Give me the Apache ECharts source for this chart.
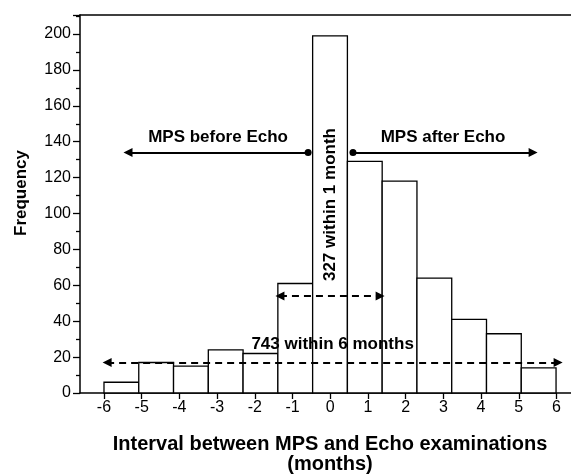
<!DOCTYPE html>
<html>
<head>
<meta charset="utf-8">
<script src="https://cdn.jsdelivr.net/npm/echarts@6/dist/echarts.min.js"></script>
<style>
  html, body { margin: 0; padding: 0; background: #fff; }
  #chart { width: 571px; height: 475px; }
</style>
</head>
<body>
<div id="chart"></div>
<script>
// bins: month at which each bin starts, and its count
const months = [-6, -5, -4, -3, -2, -1, 0, 1, 2, 3, 4, 5, 6];
const frequency = [6, 17, 15, 24, 22, 61, 199, 129, 118, 64, 41, 33, 14];
const tickMonths = [-6, -5, -4, -3, -2, -1, 0, 1, 2, 3, 4, 5, 6];

// annotation arrows: [from, to, height] in bin units / frequency
const beforeArrow = [-5.31, -0.13, 134];
const afterArrow = [1.16, 6.34, 134];
const oneMonthArrow = [-0.94, 1.94, 54];
const sixMonthArrow = [-5.91, 7.06, 17];
const oneMonthText = [0.5, 105];

const FONT = "'Liberation Sans', Arial, sans-serif";
const chart = echarts.init(document.getElementById('chart'));

const boldLabel = (text, dist) => ({
  show: true,
  position: 'insideMiddleTop',
  distance: dist,
  formatter: text,
  color: '#000',
  fontFamily: FONT,
  fontWeight: 'bold',
  fontSize: 17
});

const solid = { color: '#000', width: 2, type: 'solid' };
const dashed = { color: '#000', width: 2, type: [7, 5] };

const option = {
  animation: false,
  backgroundColor: '#fff',
  grid: { left: 80, right: 0, top: 15, bottom: 82 },
  xAxis: [
    {
      // labelled axis (months)
      type: 'value',
      min: -6.636,
      max: 6.385,
      position: 'bottom',
      axisLine: { onZero: false, lineStyle: { color: '#000', width: 1.5 } },
      axisTick: { show: true, customValues: tickMonths, length: 6, lineStyle: { color: '#000', width: 1.3 } },
      axisLabel: { customValues: tickMonths, color: '#000', fontSize: 16, fontFamily: FONT, margin: 7 },
      splitLine: { show: false }
    },
    {
      // bin axis used for the bars
      type: 'value',
      min: -6.69,
      max: 7.43,
      position: 'top',
      axisLine: { show: true, onZero: false, lineStyle: { color: '#000', width: 1.5 } },
      axisTick: { show: false },
      axisLabel: { show: false },
      splitLine: { show: false }
    }
  ],
  yAxis: {
    type: 'value',
    min: 0,
    max: 210.6,
    interval: 20,
    axisLine: { show: true, onZero: false, lineStyle: { color: '#000', width: 1.5 } },
    axisTick: { show: true, length: 7, lineStyle: { color: '#000', width: 1.3 } },
    minorTick: { show: true, splitNumber: 2, length: 4, lineStyle: { color: '#000', width: 1.3 } },
    axisLabel: { color: '#000', fontSize: 16, fontFamily: FONT, margin: 9, showMaxLabel: false },
    splitLine: { show: false }
  },
  graphic: [
    {
      type: 'text', x: 21, y: 193, rotation: Math.PI / 2,
      style: { text: 'Frequency', font: 'bold 17px ' + FONT, fill: '#000', align: 'center', verticalAlign: 'middle' }
    },
    {
      type: 'text', x: 330, y: 434,
      style: {
        text: 'Interval between MPS and Echo examinations\n(months)',
        font: 'bold 20px ' + FONT, fill: '#000', align: 'center', verticalAlign: 'top', lineHeight: 20
      }
    }
  ],
  series: [{
    type: 'custom',
    xAxisIndex: 1,
    yAxisIndex: 0,
    data: months.map((m, i) => [m, m + 1, frequency[i]]),
    encode: { x: [0, 1], y: 2 },
    renderItem: function (params, api) {
      const topLeft = api.coord([api.value(0), api.value(2)]);
      const bottomRight = api.coord([api.value(1), 0]);
      return {
        type: 'rect',
        shape: { x: topLeft[0], y: topLeft[1], width: bottomRight[0] - topLeft[0], height: bottomRight[1] - topLeft[1] },
        style: { fill: '#fff', stroke: '#000', lineWidth: 1.3 }
      };
    },
    markLine: {
      silent: true,
      data: [
        [
          { coord: [beforeArrow[0], beforeArrow[2]], symbol: 'triangle', symbolSize: [9, 9], lineStyle: solid, label: boldLabel('MPS before Echo', 7) },
          { coord: [beforeArrow[1], beforeArrow[2]], symbol: 'circle', symbolSize: 7 }
        ],
        [
          { coord: [afterArrow[0], afterArrow[2]], symbol: 'circle', symbolSize: 7, lineStyle: solid, label: boldLabel('MPS after Echo', 7) },
          { coord: [afterArrow[1], afterArrow[2]], symbol: 'triangle', symbolSize: [9, 9] }
        ],
        [
          { coord: [oneMonthArrow[0], oneMonthArrow[2]], symbol: 'triangle', symbolSize: [9, 9], lineStyle: dashed, label: { show: false } },
          { coord: [oneMonthArrow[1], oneMonthArrow[2]], symbol: 'triangle', symbolSize: [9, 9] }
        ],
        [
          { coord: [sixMonthArrow[0], sixMonthArrow[2]], symbol: 'triangle', symbolSize: [9, 9], lineStyle: dashed, label: boldLabel('743 within 6 months', 10) },
          { coord: [sixMonthArrow[1], sixMonthArrow[2]], symbol: 'triangle', symbolSize: [9, 9] }
        ]
      ]
    },
    markPoint: {
      silent: true,
      symbol: 'circle',
      symbolSize: 1,
      itemStyle: { color: 'rgba(0,0,0,0)' },
      data: [{
        coord: oneMonthText,
        label: {
          show: true, position: 'inside', rotate: 90, formatter: '327 within 1 month',
          color: '#000', fontFamily: FONT, fontWeight: 'bold', fontSize: 17
        }
      }]
    }
  }]
};

chart.setOption(option);
</script>
</body>
</html>
